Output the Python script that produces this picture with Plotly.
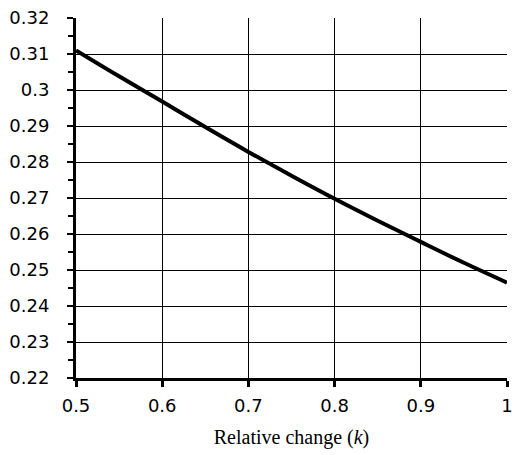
import plotly.graph_objects as go

k_values = [0.5, 0.55, 0.6, 0.65, 0.7, 0.75, 0.8, 0.85, 0.9, 0.95, 1.0]
y_values = [0.311, 0.3038, 0.2968, 0.2897, 0.2828, 0.2762, 0.2698, 0.2637, 0.2578, 0.2520, 0.2465]

x_ticks = [0.5, 0.6, 0.7, 0.8, 0.9, 1.0]
x_ticklabels = ["0.5", "0.6", "0.7", "0.8", "0.9", "1"]
y_ticks = [0.22, 0.23, 0.24, 0.25, 0.26, 0.27, 0.28, 0.29, 0.3, 0.31, 0.32]
y_ticklabels = ["0.22", "0.23", "0.24", "0.25", "0.26", "0.27", "0.28", "0.29", "0.3", "0.31", "0.32"]

fig = go.Figure()
fig.add_trace(go.Scatter(
    x=k_values, y=y_values, mode="lines",
    line=dict(color="black", width=4, shape="spline"),
    showlegend=False, hoverinfo="skip", cliponaxis=False,
))

tick_font = dict(family="DejaVu Sans, Verdana, sans-serif", size=18, color="black")

fig.update_layout(
    width=514, height=455,
    margin=dict(l=76, r=7, t=18, b=77),
    paper_bgcolor="white", plot_bgcolor="white",
    xaxis=dict(
        range=[0.5, 1.0],
        tickvals=x_ticks, ticktext=x_ticklabels,
        tickfont=tick_font,
        showgrid=True, gridcolor="black", gridwidth=1,
        showline=True, linecolor="black", linewidth=3,
        ticks="outside", ticklen=6, tickwidth=3, tickcolor="black",
        ticklabelstandoff=3, ticklabeloverflow="allow",
        zeroline=False, automargin=False,
        title=dict(
            text="Relative change (<i>k</i>)",
            font=dict(family="Liberation Serif, Times New Roman, serif", size=20, color="black"),
            standoff=16,
        ),
    ),
    yaxis=dict(
        range=[0.22, 0.32],
        tickvals=y_ticks, ticktext=y_ticklabels,
        tickfont=tick_font,
        showgrid=True, gridcolor="black", gridwidth=1,
        showline=True, linecolor="black", linewidth=3,
        ticks="outside", ticklen=6, tickwidth=2, tickcolor="black",
        ticklabelstandoff=14, ticklabeloverflow="allow",
        zeroline=False, automargin=False,
        minor=dict(ticks="outside", ticklen=5, tickwidth=2, tickcolor="black",
                   dtick=0.005, tick0=0.22, showgrid=False),
    ),
)

fig.write_html("out.html", config={"displayModeBar": False},
               post_script="document.body.style.margin='0';")
